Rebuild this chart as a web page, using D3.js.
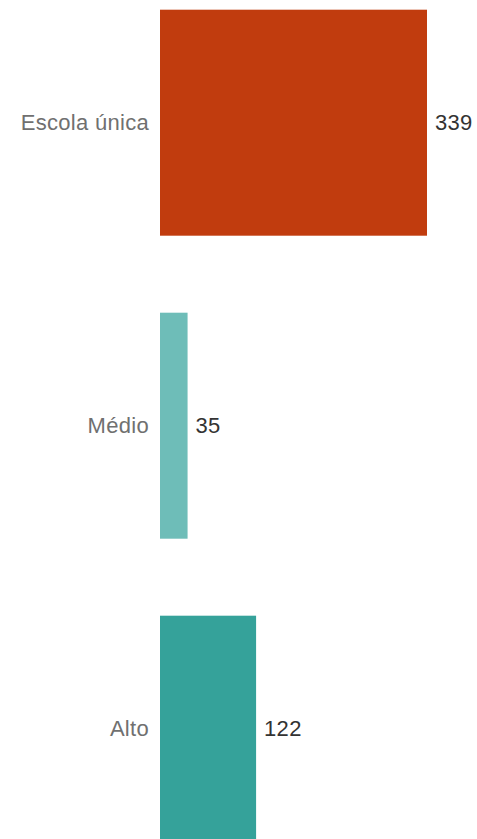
<!DOCTYPE html>
<html>
<head>
<meta charset="utf-8">
<script src="https://cdn.jsdelivr.net/npm/d3@7"></script>
<style>
  html, body { margin: 0; padding: 0; background: #ffffff; }
  svg { display: block; }
</style>
</head>
<body>
<svg id="chart" width="477" height="839"></svg>
<script>
const categories = ["Escola única", "Médio", "Alto"];
const values = [339, 35, 122];
const colors = ["#C13C0E", "#6EBDB8", "#35A29A"];

const svg = d3.select("#chart");

const x = d3.scaleLinear().domain([0, 339]).range([160, 427]);
const y = d3.scaleBand()
  .domain(categories)
  .range([9.7, 841.7])
  .paddingInner(77 / 303)
  .paddingOuter(0);

const data = categories.map((c, i) => ({ c, v: values[i], col: colors[i] }));

svg.selectAll("rect.bar")
  .data(data)
  .join("rect")
  .attr("class", "bar")
  .attr("x", x(0))
  .attr("y", d => y(d.c))
  .attr("width", d => x(d.v) - x(0))
  .attr("height", y.bandwidth())
  .attr("fill", d => d.col);

svg.selectAll("text.cat")
  .data(data)
  .join("text")
  .attr("class", "cat")
  .attr("x", x(0) - 11)
  .attr("y", d => y(d.c) + y.bandwidth() / 2)
  .attr("dy", "0.35em")
  .attr("text-anchor", "end")
  .attr("font-family", "'Liberation Sans', Arial, sans-serif")
  .attr("font-size", 22)
  .attr("letter-spacing", "0.3px")
  .attr("fill", "#707070")
  .text(d => d.c);

svg.selectAll("text.val")
  .data(data)
  .join("text")
  .attr("class", "val")
  .attr("x", d => x(d.v) + 8)
  .attr("y", d => y(d.c) + y.bandwidth() / 2)
  .attr("dy", "0.35em")
  .attr("text-anchor", "start")
  .attr("font-family", "'Liberation Sans', Arial, sans-serif")
  .attr("font-size", 22)
  .attr("letter-spacing", "0.3px")
  .attr("fill", "#333333")
  .text(d => d.v);
</script>
</body>
</html>
